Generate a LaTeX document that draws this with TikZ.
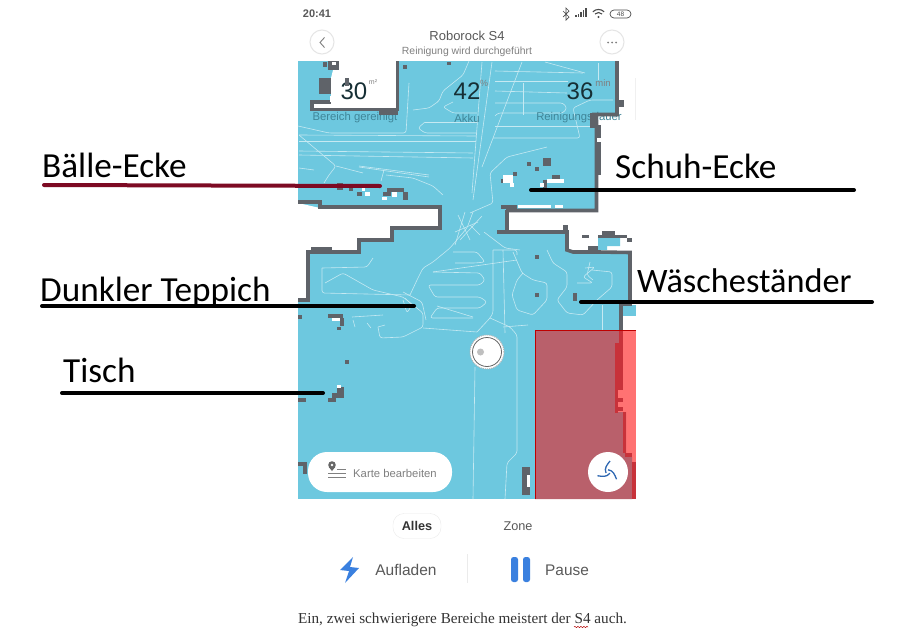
\documentclass[tikz,border=0pt]{standalone}
\usepackage{fontspec}
\setmainfont{Liberation Sans}
\newfontfamily\labelfont{Carlito}
\newfontfamily\captionfont{Liberation Serif}
\usepackage{tikz}
\usetikzlibrary{positioning,decorations.pathmorphing}

\definecolor{mapblue}{HTML}{6DC8DF}
\definecolor{wallgrey}{HTML}{5F6369}
\definecolor{zonerose}{HTML}{B9606B}
\definecolor{zonepink}{HTML}{FF7272}
\definecolor{zonedark}{HTML}{C8323A}
\definecolor{iconblue}{HTML}{3A80DF}
\definecolor{statgrey}{HTML}{3F8598}

\tikzset{
  wall/.style={draw=wallgrey,line width=3.6pt,miter limit=2},
  track/.style={draw=white!60!mapblue,line width=0.6pt,line join=round,rounded corners=2.5pt},
  marker/.style={line width=4pt,line cap=round},
  callout/.style={font=\labelfont\fontsize{35.2}{35.2}\selectfont,anchor=base west,inner sep=0pt},
  apptext/.style={text=black!65,inner sep=0pt},
  statnum/.style={text=black!65!statgrey,font=\fontsize{24}{24}\selectfont,inner sep=0pt},
  statcap/.style={text=statgrey,font=\fontsize{11.3}{11.3}\selectfont,inner sep=0pt},
  statunit/.style={text=black!50,font=\fontsize{9}{9}\selectfont,inner sep=0pt},
  roundbtn/.style={circle,draw=black!10,line width=1pt,fill=white,minimum size=24pt,inner sep=0pt},
}

\begin{document}
\begin{tikzpicture}[x=1pt,y=-1pt]
\useasboundingbox (0,0) rectangle (908,632);
\fill [white] (0,0) rectangle (908,632);

% map
\fill [mapblue] (298,61) rectangle (636,499);
\fill [white] (333,61) -- (398,61) -- (398,109) -- (313,109) -- (313,102) -- (331,102) -- (331,78) -- (333,70) -- cycle;
\fill [white] (617,61) -- (636,61) -- (636,305) -- (630,305) -- (630,252) -- (598,252) -- (573,252) -- (567,248) -- (567,232) -- (507,232) -- (507,210) -- (597,210) -- (597,115) -- (617,115) -- cycle;
\fill [white] (298,203) -- (320,208) -- (440,208) -- (440,228) -- (392,228) -- (392,240) -- (360,240) -- (358,252) -- (308,252) -- (308,300) -- (298,302) -- cycle;
\fill [white] (622,305) rectangle (636,331);
\fill [mapblue] (598,237) -- (620,237) -- (620,246) -- (607,246) -- (607,250) -- (598,250) -- cycle;
\fill [mapblue] (623,305) rectangle (636,316);
\draw [black!6,line width=1pt] (635,78) -- (635,120);

% cleaning paths
\foreach \trk in {
  {(299,135) -- (476,136)},{(299,141) -- (476,141)},{(299,151) -- (473,153)},{(299,155) -- (473,158)},{(299,168) -- (314,170)},
  {(425,122) -- (477,122)},{(425,122) -- (418,128) -- (425,133) -- (477,133)},
  {(453,102) -- (443,107) -- (453,113) -- (477,113)},
  {(298,126) -- (329,133) -- (406,133) -- (409,83)},
  {(482,62) -- (472,193)},{(492,62) -- (473,200)},{(522,62) -- (482,167)},
  {(299,135) -- (336,166) -- (329,175) -- (324,183)},
  {(336,166) -- (363,173)},{(384,170) -- (381,181)},
  {(359,166) -- (429,175)},{(359,167) -- (429,177)},
  {(386,175) -- (413,178) -- (433,186) -- (443,195)},
  {(413,110) -- (429,108) -- (439,101) -- (443,91) -- (463,75) -- (469,61)},
  {(547,147) -- (507,157) -- (490,173) -- (493,203) -- (470,213)},
  {(495,71) -- (583,73)},{(545,62) -- (585,73)},{(495,81) -- (568,81)},{(495,91) -- (567,93)},{(523,83) -- (523,115)},{(598,63) -- (598,80)},
  {(495,103) -- (563,103) -- (567,108) -- (563,113) -- (498,113) -- (495,116)},
  {(495,126) -- (595,126)},{(493,138) -- (580,138) -- (573,108) -- (590,100) -- (613,100)},
  {(322,268) -- (322,293) -- (410,295)},{(322,268) -- (367,267) -- (373,258)},
  {(325,283) -- (343,273) -- (373,290) -- (403,297) -- (423,313) -- (423,327) -- (403,337) -- (380,338) -- (378,327)},
  {(403,292) -- (422,302) -- (426,320)},
  {(403,300) -- (407,313) -- (412,305) -- (405,298)},
  {(352,317) -- (383,315)},{(353,320) -- (355,327)},{(367,323) -- (371,328)},{(378,327) -- (385,325)},
  {(410,295) -- (417,280) -- (423,268) -- (433,262) -- (450,248) -- (467,228) -- (473,212)},
  {(453,252) -- (477,252) -- (485,262) -- (475,263) -- (455,263)},
  {(433,272) -- (480,273) -- (485,280) -- (480,285) -- (428,285) -- (435,297) -- (480,297) -- (487,302) -- (480,308) -- (437,308) -- (430,318) -- (473,318)},
  {(437,306) -- (473,317)},
  {(493,250) -- (493,313) -- (490,318) -- (477,332)},{(503,250) -- (505,333)},{(493,250) -- (517,250) -- (517,255)},
  {(433,272) -- (517,260)},
  {(490,318) -- (510,327) -- (517,335) -- (517,453) -- (507,463) -- (505,499)},
  {(423,328) -- (477,332)},{(503,327) -- (528,325)},{(475,367) -- (473,499)},
  {(513,252) -- (522,273) -- (533,280) -- (547,283) -- (547,300) -- (533,315) -- (517,310) -- (512,295) -- (517,280) -- (523,273)},
  {(547,250) -- (553,263) -- (567,272) -- (567,287) -- (557,300) -- (567,313) -- (583,315) -- (597,300) -- (612,287) -- (612,272) -- (592,270)},
  {(585,268) -- (595,267) -- (583,277) -- (593,283) -- (577,283)},{(590,262) -- (587,275) -- (593,280)},
  {(602,305) -- (602,330)},
  {(458,215) -- (470,240)},{(465,212) -- (455,245)},{(470,225) -- (480,235)},{(455,232) -- (478,222)},{(460,240) -- (482,216)},
  {(484,232) -- (505,248) -- (520,250)}}
  \draw [track] \trk;

% figures on the map
\node [statnum] (areanum) at (354,91) {30};
\node [statunit,font=\fontsize{7}{7}\selectfont] (areaunit) at (373,82) {m²};
\node [statnum] (batnum) at (467,91) {42};
\node [statunit] (batunit) at (484,83) {\%};
\node [statnum] (timenum) at (580,91) {36};
\node [statunit,font=\fontsize{9.5}{9.5}\selectfont] (timeunit) at (603,83) {min};
\node [statcap] (areacap) at (355,118) {Bereich gereinigt};
\node [statcap] (batcap) at (467,118) {Akku};
\node [statcap] (timecap) at (579,118) {Reinigungsdauer};

% walls
\draw [wall] (312,102) -- (331,102) (312,100) -- (312,109.5) -- (397.5,109.5) -- (397.5,61);
\draw [wall] (617,61) -- (617,114.5) -- (592,114.5) (596.5,120) -- (596.5,210.5) -- (506,210.5) (507,210) -- (507,232) -- (497,232) -- (567,232) -- (567,250) -- (573,252) -- (598,252) -- (630,252.5) -- (630,304) -- (621,304) -- (621,332);
\draw [wall] (298,202) -- (320,202) -- (320,207) -- (440,207) -- (440,228) -- (392,228) -- (392,240) -- (359,240) -- (359,252) -- (308,252) -- (308,300) -- (298,300);
\foreach \bx/\by/\bw/\bh in {323/62/4/5,328/61/11/9,319/78/12/16,345/78/4/8,403/65/4/4,447/62/4/3,379/108/19/7,617/100/7/7,590/113/8/15,595/125/6/50,
  527/162/4/4,535/167/4/4,543/158/8/8,513/172/4/4,501/179/4/4,543/180/4/8,552/175/8/4,501/205/16/4,
  337/183/6/7,349/188/4/3,357/192/5/4,387/188/17/4,383/192/8/4,403/192/5/8,
  298/315/4/4,328/314/15/4,340/318/4/8,337/327/4/3,345/360/4/4,535/255/4/4,535/293/4/4,573/293/4/8,
  337/387/7/10,332/393/12/5,328/398/8/4,298/398/8/4,311/247/21/5,
  563/225/5/7,582/235/7/3,602/231/13/4,598/235/29/3,627/238/5/4,588/246/10/5,
  298/462/8/4,303/462/4/12,522/467/8/28}
  \fill [wallgrey] (\bx,\by) rectangle ++(\bw,\bh);
\foreach \bx/\by/\bw/\bh in {503/175/10/8,510/183/4/4,547/179/17/4,540/183/4/4,518/205/33/3,555/205/8/3,597/138/4/4,
  362/187/3/4,365/192/5/4,382/197/5/3,392/192/5/5,332/318/8/3,337/385/4/3,527/475/3/12,332/62/4/3,330/96/8/6}
  \fill [white] (\bx,\by) rectangle ++(\bw,\bh);

% red zone
\fill [zonepink] (535,330) rectangle (636,499);
\fill [zonerose] (535,330) -- (619,330) -- (619,343) -- (615,343) -- (615,412) -- (626,412) -- (626,457) -- (632,457) -- (632,499) -- (535,499) -- cycle;
\fill [zonedark] (619,330) rectangle (623,343);
\fill [zonedark] (615,343) rectangle (623,390);
\fill [zonedark] (615,390) rectangle (618,413);
\fill [zonedark] (618,398) rectangle (623,402);
\fill [zonedark] (618,407) rectangle (623,411);
\fill [zonedark] (623,412) rectangle (626,453);
\fill [zonedark] (625,453) rectangle (632,457);
\fill [zonedark] (632,462) rectangle (636,499);
\draw [red!75!black,line width=1pt] (636,330.5) -- (535.5,330.5) -- (535.5,499);

% robot
\node [circle,draw=black!30,densely dotted,line width=1pt,fill=white,minimum size=34pt,inner sep=0pt] (robot) at (487,352) {};
\draw [black!60,line width=0.8pt] (robot.center) circle (14.5);
\fill [black!25] (480.5,352) circle (3.5);

% status bar and title
\node [apptext,font=\bfseries\fontsize{11}{11}\selectfont] (clock) at (317,14) {20:41};
\draw [black!70,line width=0.7pt] (563,11) -- (569,17) -- (566,20) -- (566,8) -- (569,11) -- (563,17);
\foreach \bx/\bh in {575/2,577.5/3.5,580/5,582.5/7,585/9}
  \fill [black!70] (\bx,17) rectangle ++(1.5,-\bh);
\draw [black!70,line width=1.1pt] (592.8,11.8) arc (225:315:8);
\draw [black!70,line width=1.1pt] (595,14) arc (225:315:5);
\fill [black!70] (598.5,17) circle (1.1);
\node [draw=black!70,rounded corners=4pt,line width=0.7pt,minimum width=21pt,minimum height=8pt,inner sep=0pt,font=\fontsize{6.5}{6.5}\selectfont,text=black!70] (battery) at (620.5,14) {48};
\node [apptext,font=\fontsize{13}{13}\selectfont] (title) at (467,36) {Roborock S4};
\node [apptext,text=black!50,font=\fontsize{10.4}{10.4}\selectfont] (subtitle) at (467,52) {Reinigung wird durchgeführt};
\node [roundbtn] (backbtn) at (322,42) {};
\draw [black!50,line width=0.9pt] (324.5,37.5) -- (320,42.5) -- (324.5,47.5);
\node [roundbtn] (morebtn) at (612,42) {};
\foreach \bx in {608,612,616}
  \fill [black!50] (\bx,42.5) circle (1);

% edit button and fan button
\node [fill=white,rounded corners=19pt,minimum width=144pt,minimum height=40pt,inner sep=0pt] (editbtn) at (380,472) {};
\node [apptext,text=black!50,font=\fontsize{11.3}{11.3}\selectfont,anchor=west] (edittext) at (353,473) {Karte bearbeiten};
\fill [black!60] (332,465) circle (3.8);
\fill [black!60] (328.8,467) -- (335.2,467) -- (332,471) -- cycle;
\fill [white] (332,465) circle (1.4);
\draw [black!50,line width=0.9pt] (337,469) -- (346,469) (328,473) -- (346,473) (328,477) -- (346,477);
\node [circle,fill=white,minimum size=40pt,inner sep=0pt] (fanbtn) at (608,472) {};
\foreach \ang in {0,120,240}
  \draw [iconblue!80!black,line width=1.3pt,rotate around={\ang:(fanbtn.center)}] (606,473) .. controls (604,468) and (607,465) .. (610,461);

% tabs and actions
\node [draw=black!8,fill=white,rounded corners=11pt,minimum width=48pt,minimum height=25pt,inner sep=0pt,font=\bfseries\fontsize{12.7}{12.7}\selectfont,text=black!80] (tabone) at (417,526) {Alles};
\node [apptext,font=\fontsize{12.7}{12.7}\selectfont] (tabtwo) at (518,526) {Zone};
\fill [iconblue] (353,557) -- (340,570) -- (349,571) -- (345,583) -- (359,568) -- (350,567) -- cycle;
\node [apptext,font=\fontsize{15.5}{15.5}\selectfont] (charge) at (406,570) {Aufladen};
\draw [black!8,line width=1pt] (467,554) -- (467,583);
\fill [iconblue,rounded corners=2.5pt] (511,557) rectangle (518,582);
\fill [iconblue,rounded corners=2.5pt] (523,557) rectangle (530,582);
\node [apptext,font=\fontsize{15.4}{15.4}\selectfont] (pause) at (567,570) {Pause};

% caption
\node [inner sep=0pt,text=black!80,font=\captionfont\fontsize{15.2}{15.2}\selectfont] (caption) at (462.5,620) {Ein, zwei schwierigere Bereiche meistert der S4 auch.};
\draw [red!70!black,line width=0.5pt,decorate,decoration={snake,amplitude=0.6pt,segment length=3pt}] (574,627) -- (588,627);

% callouts
\node [callout] (balls) at (42,177) {Bälle-Ecke};
\node [callout] (shoes) at (615,178) {Schuh-Ecke};
\node [callout,font=\labelfont\fontsize{34.3}{34.3}\selectfont] (rack) at (637,292) {Wäscheständer};
\node [callout] (carpet) at (40,301) {Dunkler Teppich};
\node [callout] (desk) at (63,382) {Tisch};
\coordinate (ballsstart) at (44,185);
\coordinate (ballsend) at (380,186);
\coordinate (shoesstart) at (854,190);
\coordinate (shoesend) at (531,190);
\coordinate (rackstart) at (872,302);
\coordinate (rackend) at (581,302);
\coordinate (carpetstart) at (42,306);
\coordinate (carpetend) at (414,306);
\coordinate (deskstart) at (62,393);
\coordinate (deskend) at (323,393);
\draw [marker,color={rgb,255:red,125;green,10;blue,35}] (ballsstart) -- (ballsend);
\draw [marker] (shoesstart) -- (shoesend);
\draw [marker] (rackstart) -- (rackend);
\draw [marker] (carpetstart) -- (carpetend);
\draw [marker] (deskstart) -- (deskend);

\end{tikzpicture}
\end{document}
